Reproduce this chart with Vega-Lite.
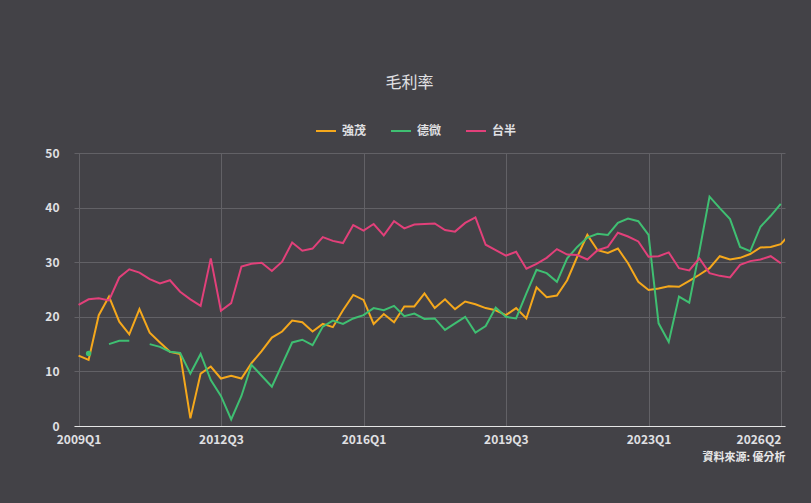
{
  "$schema": "https://vega.github.io/schema/vega-lite/v6.json",
  "autosize": "none",
  "width": 711,
  "height": 273,
  "padding": {"left": 74, "top": 153, "right": 26, "bottom": 77},
  "background": "#434247",
  "title": {
    "text": "毛利率",
    "font": "Noto Sans CJK TC",
    "fontSize": 16,
    "fontWeight": "normal",
    "color": "#e0e0e3",
    "frame": "group",
    "dx": -20,
    "offset": 29
  },
  "data": {
    "values": [
      {"q": "2009-01-01", "強茂": 12.9, "德微": null, "台半": 22.2},
      {"q": "2009-04-01", "強茂": 12.1, "德微": 13.3, "台半": 23.2},
      {"q": "2009-07-01", "強茂": 20.3, "德微": null, "台半": 23.4},
      {"q": "2009-10-01", "強茂": 23.7, "德微": 15.0, "台半": 23.0},
      {"q": "2010-01-01", "強茂": 19.1, "德微": 15.6, "台半": 27.2},
      {"q": "2010-04-01", "強茂": 16.8, "德微": 15.6, "台半": 28.7},
      {"q": "2010-07-01", "強茂": 21.4, "德微": null, "台半": 28.1},
      {"q": "2010-10-01", "強茂": 17.1, "德微": 15.0, "台半": 26.9},
      {"q": "2011-01-01", "強茂": 15.3, "德微": 14.5, "台半": 26.1},
      {"q": "2011-04-01", "強茂": 13.6, "德微": 13.6, "台半": 26.7},
      {"q": "2011-07-01", "強茂": 13.2, "德微": 13.4, "台半": 24.6},
      {"q": "2011-10-01", "強茂": 1.4, "德微": 9.6, "台半": 23.2},
      {"q": "2012-01-01", "強茂": 9.6, "德微": 13.2, "台半": 22.0},
      {"q": "2012-04-01", "強茂": 10.9, "德微": 8.4, "台半": 30.7},
      {"q": "2012-07-01", "強茂": 8.7, "德微": 5.5, "台半": 21.1},
      {"q": "2012-10-01", "強茂": 9.2, "德微": 1.2, "台半": 22.5},
      {"q": "2013-01-01", "強茂": 8.7, "德微": 5.5, "台半": 29.2},
      {"q": "2013-04-01", "強茂": 11.5, "德微": 11.2, "台半": 29.7},
      {"q": "2013-07-01", "強茂": 13.7, "德微": 9.2, "台半": 29.9},
      {"q": "2013-10-01", "強茂": 16.2, "德微": 7.2, "台半": 28.4},
      {"q": "2014-01-01", "強茂": 17.3, "德微": 11.3, "台半": 30.1},
      {"q": "2014-04-01", "強茂": 19.3, "德微": 15.3, "台半": 33.6},
      {"q": "2014-07-01", "強茂": 19.0, "德微": 15.8, "台半": 32.1},
      {"q": "2014-10-01", "強茂": 17.3, "德微": 14.8, "台半": 32.5},
      {"q": "2015-01-01", "強茂": 18.7, "德微": 18.2, "台半": 34.6},
      {"q": "2015-04-01", "強茂": 18.1, "德微": 19.3, "台半": 33.9},
      {"q": "2015-07-01", "強茂": 21.2, "德微": 18.7, "台半": 33.5},
      {"q": "2015-10-01", "強茂": 24.0, "德微": 19.7, "台半": 36.8},
      {"q": "2016-01-01", "強茂": 23.1, "德微": 20.3, "台半": 35.8},
      {"q": "2016-04-01", "強茂": 18.7, "德微": 21.6, "台半": 37.0},
      {"q": "2016-07-01", "強茂": 20.5, "德微": 21.2, "台半": 34.9},
      {"q": "2016-10-01", "強茂": 19.0, "德微": 22.0, "台半": 37.5},
      {"q": "2017-01-01", "強茂": 21.9, "德微": 20.1, "台半": 36.2},
      {"q": "2017-04-01", "強茂": 21.9, "德微": 20.6, "台半": 36.9},
      {"q": "2017-07-01", "強茂": 24.3, "德微": 19.6, "台半": 37.0},
      {"q": "2017-10-01", "強茂": 21.6, "德微": 19.7, "台半": 37.1},
      {"q": "2018-01-01", "強茂": 23.2, "德微": 17.6, "台半": 35.9},
      {"q": "2018-04-01", "強茂": 21.4, "德微": 18.8, "台半": 35.6},
      {"q": "2018-07-01", "強茂": 22.8, "德微": 20.0, "台半": 37.2},
      {"q": "2018-10-01", "強茂": 22.3, "德微": 17.1, "台半": 38.2},
      {"q": "2019-01-01", "強茂": 21.6, "德微": 18.3, "台半": 33.2},
      {"q": "2019-04-01", "強茂": 21.2, "德微": 21.7, "台半": 32.2},
      {"q": "2019-07-01", "強茂": 20.3, "德微": 20.0, "台半": 31.2},
      {"q": "2019-10-01", "強茂": 21.6, "德微": 19.7, "台半": 31.9},
      {"q": "2020-01-01", "強茂": 19.7, "德微": 24.3, "台半": 28.8},
      {"q": "2020-04-01", "強茂": 25.4, "德微": 28.6, "台半": 29.7},
      {"q": "2020-07-01", "強茂": 23.6, "德微": 28.0, "台半": 30.8},
      {"q": "2020-10-01", "強茂": 23.9, "德微": 26.4, "台半": 32.4},
      {"q": "2021-01-01", "強茂": 26.7, "德微": 30.7, "台半": 31.4},
      {"q": "2021-04-01", "強茂": 31.0, "德微": 32.8, "台半": 31.3},
      {"q": "2021-07-01", "強茂": 35.0, "德微": 34.5, "台半": 30.5},
      {"q": "2021-10-01", "強茂": 32.2, "德微": 35.2, "台半": 32.2},
      {"q": "2022-01-01", "強茂": 31.7, "德微": 35.0, "台半": 32.8},
      {"q": "2022-04-01", "強茂": 32.5, "德微": 37.2, "台半": 35.4},
      {"q": "2022-07-01", "強茂": 29.8, "德微": 38.0, "台半": 34.7},
      {"q": "2022-10-01", "強茂": 26.4, "德微": 37.5, "台半": 33.8},
      {"q": "2023-01-01", "強茂": 24.9, "德微": 35.0, "台半": 31.0},
      {"q": "2023-04-01", "強茂": 25.2, "德微": 18.8, "台半": 31.1},
      {"q": "2023-07-01", "強茂": 25.6, "德微": 15.4, "台半": 31.8},
      {"q": "2023-10-01", "強茂": 25.5, "德微": 23.7, "台半": 28.9},
      {"q": "2024-01-01", "強茂": 26.6, "德微": 22.6, "台半": 28.5},
      {"q": "2024-04-01", "強茂": 27.7, "德微": 32.0, "台半": 30.7},
      {"q": "2024-07-01", "強茂": 28.9, "德微": 42.0, "台半": 28.0},
      {"q": "2024-10-01", "強茂": 31.1, "德微": 39.9, "台半": 27.5},
      {"q": "2025-01-01", "強茂": 30.5, "德微": 37.9, "台半": 27.2},
      {"q": "2025-04-01", "強茂": 30.8, "德微": 32.8, "台半": 29.5},
      {"q": "2025-07-01", "強茂": 31.5, "德微": 32.0, "台半": 30.2},
      {"q": "2025-10-01", "強茂": 32.7, "德微": 36.5, "台半": 30.5},
      {"q": "2026-01-01", "強茂": 32.8, "德微": 38.5, "台半": 31.1},
      {"q": "2026-04-01", "強茂": 33.3, "德微": 40.7, "台半": 29.8},
      {"q": "2026-07-01", "強茂": 35.4, "德微": null, "台半": null}
    ]
  },
  "transform": [
    {"fold": ["強茂", "德微", "台半"], "as": ["key", "value"]}
  ],
  "encoding": {
    "x": {
      "field": "q",
      "type": "temporal",
      "scale": {
        "type": "utc",
        "domain": [
          {"year": 2008, "month": 11, "date": 21, "utc": true},
          {"year": 2026, "month": 5, "date": 9, "utc": true}
        ]
      },
      "axis": {
        "title": "資料來源: 優分析",
        "titleAnchor": "end",
        "titleFont": "Noto Sans CJK TC",
        "titleFontSize": 11,
        "titleFontWeight": "bold",
        "titleColor": "#e8e8e8",
        "titlePadding": 6,
        "labelExpr": "utcFormat(datum.value, '%Y') + 'Q' + (floor(utcmonth(datum.value) / 3) + 1)",
        "values": [
          {"year": 2009, "month": 1, "date": 1, "utc": true},
          {"year": 2012, "month": 7, "date": 1, "utc": true},
          {"year": 2016, "month": 1, "date": 1, "utc": true},
          {"year": 2019, "month": 7, "date": 1, "utc": true},
          {"year": 2023, "month": 1, "date": 1, "utc": true},
          {"year": 2026, "month": 4, "date": 1, "utc": true}
        ],
        "labelAlign": {
          "condition": {"test": "utcyear(datum.value) == 2026", "value": "right"},
          "value": "center"
        },
        "labelDx": {
          "condition": {"test": "utcyear(datum.value) == 2026", "value": 3},
          "value": 0
        },
        "labelFont": "Noto Sans CJK TC",
        "labelFontSize": 12,
        "labelFontWeight": "bold",
        "labelColor": "#e0e0e3",
        "labelPadding": 8,
        "labelFlush": false,
        "labelOverlap": false,
        "ticks": false,
        "domainColor": "#e6e6e6",
        "grid": true,
        "gridColor": "#626166"
      }
    },
    "y": {
      "field": "value",
      "type": "quantitative",
      "scale": {"domain": [0, 50]},
      "axis": {
        "title": null,
        "values": [0, 10, 20, 30, 40, 50],
        "labelFont": "Noto Sans CJK TC",
        "labelFontSize": 12,
        "labelFontWeight": "bold",
        "labelColor": "#e0e0e3",
        "labelPadding": 15,
        "ticks": false,
        "domain": false,
        "gridColor": "#626166"
      }
    },
    "color": {
      "field": "key",
      "type": "nominal",
      "scale": {
        "domain": ["強茂", "德微", "台半"],
        "range": ["#f5a81c", "#3fbf72", "#e2407a"]
      },
      "legend": {
        "title": null,
        "orient": "none",
        "direction": "horizontal",
        "legendX": 241,
        "legendY": -33,
        "padding": 0,
        "symbolType": "stroke",
        "symbolSize": 400,
        "symbolStrokeWidth": 2,
        "labelFont": "Noto Sans CJK TC",
        "labelFontSize": 12,
        "labelFontWeight": "bold",
        "labelColor": "#e0e0e3",
        "labelOffset": 5,
        "columnPadding": 20
      }
    }
  },
  "layer": [
    {
      "mark": {
        "type": "line",
        "strokeWidth": 2,
        "clip": true,
        "invalid": "break-paths-filter-domains"
      }
    },
    {
      "transform": [{"filter": "datum.key == '德微' && datum.value == 13.3"}],
      "mark": {"type": "point", "filled": true, "size": 30, "opacity": 1}
    }
  ],
  "config": {
    "view": {"stroke": null}
  }
}
